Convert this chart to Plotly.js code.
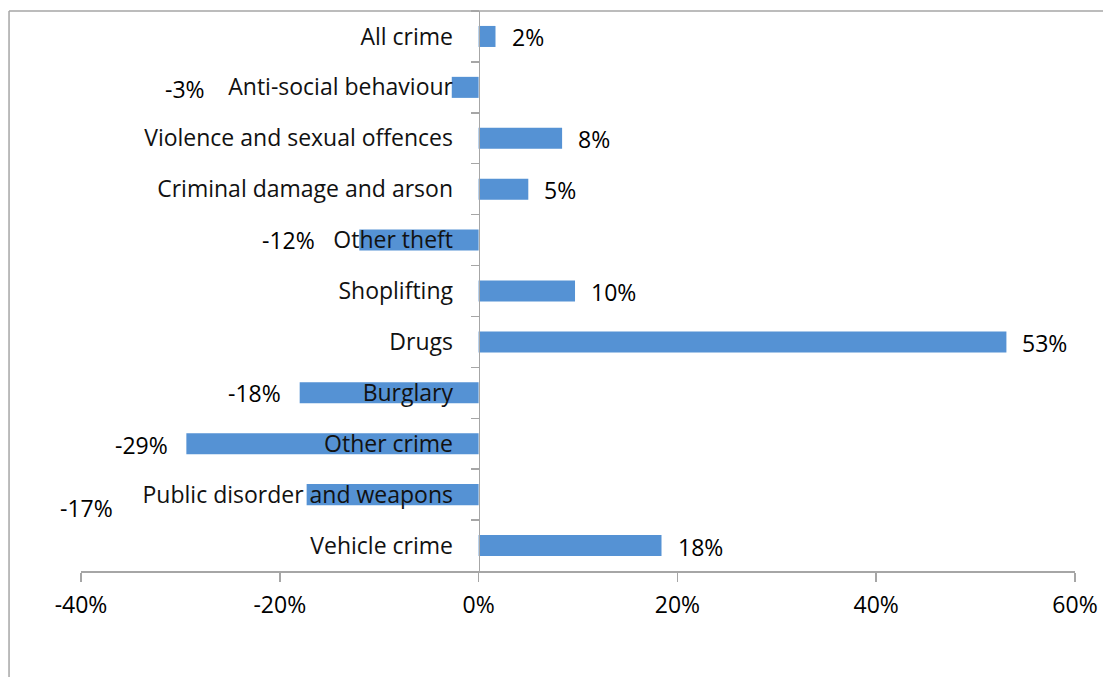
<!DOCTYPE html>
<html>
<head>
<meta charset="utf-8">
<script src="https://cdn.plot.ly/plotly-3.0.1.min.js"></script>
<style>html,body{margin:0;padding:0;background:#fff;}#chart{width:1103px;height:677px;}</style>
</head>
<body>
<div id="chart"></div>
<script>
// Data
var categories = ["All crime", "Anti-social behaviour", "Violence and sexual offences", "Criminal damage and arson", "Other theft", "Shoplifting", "Drugs", "Burglary", "Other crime", "Public disorder and weapons", "Vehicle crime"];
var changes = [0.017, -0.027, 0.084, 0.05, -0.12, 0.097, 0.531, -0.18, -0.294, -0.173, 0.184];
var xTickVals = [-0.4, -0.2, 0, 0.2, 0.4, 0.6];
var xTickText = ["-40%", "-20%", "0%", "20%", "40%", "60%"];

// Label placement styling (pixel offsets from bar end)
var labelShiftX = [14, -245, 14, 14, -42, 14, 14, -17, -16, -192, 14];
var labelShiftY = [-1, -2, -1, -1, 0, -1, -1, 0, -1, -13, -1];

var font = "'Open Sans', 'Noto Sans', sans-serif";

var annotations = categories.map(function (c, i) {
  var v = changes[i];
  return {
    x: v, y: c, xref: "x", yref: "y",
    text: Math.round(v * 100) + "%",
    showarrow: false,
    xanchor: v >= 0 ? "left" : "right",
    xshift: labelShiftX[i], yshift: labelShiftY[i],
    font: {family: font, size: 23, color: "#000"}
  };
});

var trace = {
  type: "bar", orientation: "h",
  x: changes, y: categories,
  marker: {color: "#5592d4"},
  hoverinfo: "none"
};

var zeroFrac = (0 - (-0.4)) / (0.6 - (-0.4));

var layout = {
  width: 1103, height: 677,
  margin: {l: 81, r: 28, t: 11, b: 106},
  paper_bgcolor: "#fff", plot_bgcolor: "#fff",
  showlegend: false,
  bargap: 0.587,
  font: {family: font, size: 23, color: "#000"},
  xaxis: {
    range: [-0.4, 0.6], tickvals: xTickVals, ticktext: xTickText,
    showgrid: false, zeroline: false,
    showline: true, linecolor: "#a6a6a6", linewidth: 1.5,
    ticks: "outside", ticklen: 9, tickcolor: "#a6a6a6", tickwidth: 1.5,
    ticklabelstandoff: 4,
    tickfont: {family: font, size: 23, color: "#000"},
    fixedrange: true
  },
  yaxis: {
    type: "category", autorange: "reversed",
    anchor: "free", position: zeroFrac,
    showgrid: false, zeroline: false,
    showline: true, linecolor: "#a6a6a6", linewidth: 1.5,
    ticks: "outside", ticklen: 8, tickcolor: "#a6a6a6", tickwidth: 1.5,
    tickson: "boundaries",
    ticklabelstandoff: 21,
    tickfont: {family: font, size: 23, color: "#111"},
    fixedrange: true
  },
  annotations: annotations,
  shapes: [
    {type: "line", xref: "paper", yref: "paper", x0: -0.0724, x1: 1.03, y0: 1, y1: 1, line: {color: "#a6a6a6", width: 1.5}},
    {type: "line", xref: "paper", yref: "paper", x0: -0.0724, x1: -0.0724, y0: 1, y1: -0.2, line: {color: "#a6a6a6", width: 1.5}}
  ]
};

Plotly.newPlot("chart", [trace], layout, {displayModeBar: false, staticPlot: true});
</script>
</body>
</html>
